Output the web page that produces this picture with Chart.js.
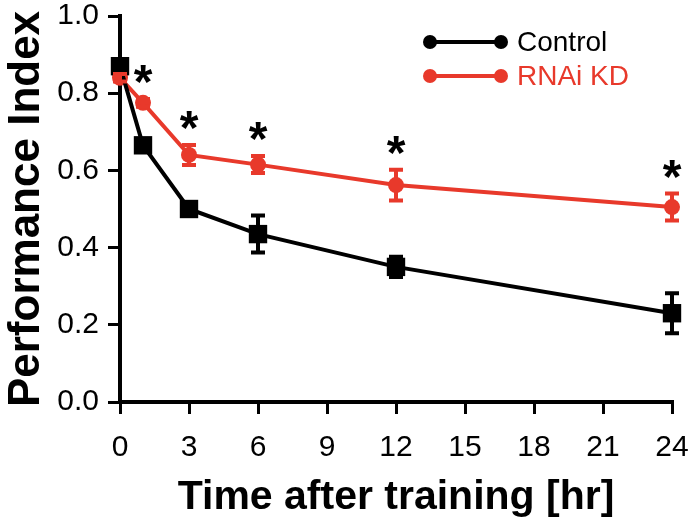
<!DOCTYPE html>
<html lang="en">
<head>
  <meta charset="UTF-8">
  <title>Performance Index</title>
  <script src="https://cdn.jsdelivr.net/npm/chart.js"></script>
  <style>
    html, body {
      margin: 0;
      background: white;
    }
    #wrap {
      width: 700px;
      height: 524px;
    }
  </style>
</head>
<body>
  <div id="wrap">
    <canvas id="chart"></canvas>
  </div>

  <script>
    const times = [0, 1, 3, 6, 12, 24];
    const controlMean = [0.87, 0.665, 0.50, 0.435, 0.35, 0.23];
    const controlErr = [0.012, 0.015, 0.015, 0.048, 0.026, 0.052];
    const kdMean = [0.84, 0.775, 0.64, 0.615, 0.562, 0.505];
    const kdErr = [0.01, 0.01, 0.026, 0.022, 0.04, 0.035];
    const sigTimes = [1, 3, 6, 12, 24];
    const xTicks = [0, 3, 6, 9, 12, 15, 18, 21, 24];

    const RED = "#e8392b";
    const FONT = "'Liberation Sans', Arial, sans-serif";

    const errErr = [controlErr, kdErr];

    // error bars + asterisks + legend
    const extras = {
      id: "extras",
      afterDatasetsDraw(chart) {
        const ctx = chart.ctx;
        const x = chart.scales.x;
        const y = chart.scales.y;

        chart.data.datasets.forEach((ds, i) => {
          const errs = errErr[i];
          ctx.save();
          ctx.strokeStyle = ds.borderColor;
          ctx.lineWidth = 4;
          ds.data.forEach((p, j) => {
            const px = x.getPixelForValue(p.x);
            const top = y.getPixelForValue(p.y + errs[j]);
            const bot = y.getPixelForValue(p.y - errs[j]);
            ctx.beginPath();
            ctx.moveTo(px, top); ctx.lineTo(px, bot);
            ctx.moveTo(px - 7, top); ctx.lineTo(px + 7, top);
            ctx.moveTo(px - 7, bot); ctx.lineTo(px + 7, bot);
            ctx.stroke();
          });
          ctx.restore();
        });

        // significance stars above the KD error bars
        ctx.save();
        ctx.fillStyle = "#000";
        ctx.font = "bold 48px " + FONT;
        ctx.textAlign = "center";
        ctx.textBaseline = "alphabetic";
        sigTimes.forEach(t => {
          const j = times.indexOf(t);
          const px = x.getPixelForValue(t);
          const py = y.getPixelForValue(kdMean[j] + kdErr[j]);
          ctx.fillText("*", px, py - 1);
        });
        ctx.restore();

        // legend
        const items = [["Control", "#000"], ["RNAi KD", RED]];
        ctx.save();
        items.forEach((it, k) => {
          const ly = 42 + k * 34;
          ctx.strokeStyle = it[1];
          ctx.fillStyle = it[1];
          ctx.lineWidth = 4;
          ctx.beginPath();
          ctx.moveTo(430, ly); ctx.lineTo(501, ly);
          ctx.stroke();
          [430, 501].forEach(cx => {
            ctx.beginPath();
            ctx.arc(cx, ly, 7, 0, Math.PI * 2);
            ctx.fill();
          });
          ctx.font = "28px " + FONT;
          ctx.textBaseline = "middle";
          ctx.textAlign = "left";
          ctx.fillText(it[0], 517, ly + 1);
        });
        ctx.restore();
      }
    };

    const chart = new Chart(document.getElementById("chart"), {
      type: "line",
      data: {
        datasets: [{
          label: "Control",
          data: times.map((t, i) => ({ x: t, y: controlMean[i] })),
          borderColor: "#000",
          backgroundColor: "#000",
          borderWidth: 4,
          pointStyle: "rect",
          pointRadius: 13,
          pointBorderWidth: 0,
          tension: 0,
          clip: false
        }, {
          label: "RNAi KD",
          data: times.map((t, i) => ({ x: t, y: kdMean[i] })),
          borderColor: RED,
          backgroundColor: RED,
          borderWidth: 4,
          pointStyle: "circle",
          pointRadius: 8,
          pointBorderWidth: 0,
          tension: 0,
          clip: false
        }]
      },
      options: {
        animation: false,
        responsive: true,
        maintainAspectRatio: false,
        layout: { padding: { top: 16, right: 28, left: 0, bottom: 0 } },
        scales: {
          x: {
            type: "linear",
            min: 0,
            max: 24,
            afterFit: s => { s.height = 122; s.paddingLeft = 0; s.paddingRight = 0; },
            afterBuildTicks: s => { s.ticks = xTicks.map(v => ({ value: v })); },
            border: { display: true, color: "#000", width: 4 },
            grid: { drawOnChartArea: false, drawTicks: true, tickLength: 12, lineWidth: 3, color: "#000" },
            ticks: {
              color: "#000",
              padding: 16,
              font: { family: FONT, size: 30 }
            },
            title: {
              display: true,
              text: "Time after training [hr]",
              color: "#000",
              font: { family: FONT, size: 41, weight: "bold" },
              padding: { top: 0, bottom: 2 }
            }
          },
          y: {
            min: 0,
            max: 1,
            afterFit: s => { s.width = 120; s.paddingTop = 0; s.paddingBottom = 0; },
            border: { display: true, color: "#000", width: 4 },
            grid: { drawOnChartArea: false, drawTicks: true, tickLength: 12, lineWidth: 3, color: "#000" },
            ticks: {
              stepSize: 0.2,
              color: "#000",
              padding: 9,
              font: { family: FONT, size: 30, lineHeight: 1 },
              callback: v => v.toFixed(1)
            },
            title: {
              display: true,
              text: "Performance Index",
              color: "#000",
              font: { family: FONT, size: 44, weight: "bold" },
              padding: 0
            }
          }
        },
        plugins: {
          legend: { display: false },
          tooltip: { enabled: false }
        }
      },
      plugins: [extras]
    });
  </script>
</body>
</html>
